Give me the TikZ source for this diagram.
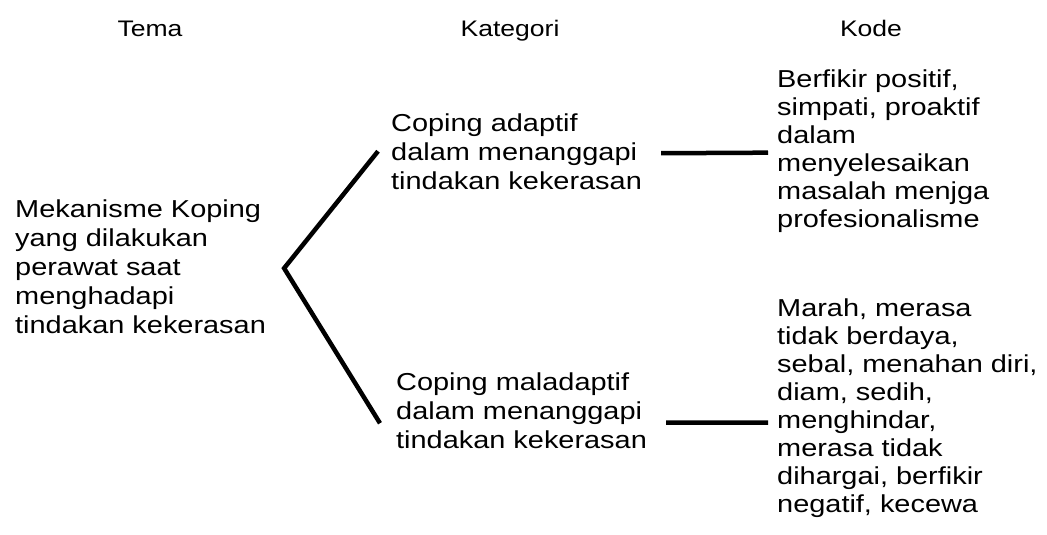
\documentclass[tikz,border=0pt]{standalone}
\usepackage{fontspec}
\setmainfont{Liberation Sans}[FakeStretch=1.18]
\usepackage{tikz}
\usetikzlibrary{positioning}

\begin{document}
\begin{tikzpicture}[
    x=1pt, y=-1pt,
    head/.style={anchor=base, inner sep=0pt, font=\fontsize{22.5}{27}\selectfont},
    txt/.style={anchor=base west, inner sep=0pt, align=left, font=\fontsize{24.5}{29}\selectfont},
    kode/.style={txt, font=\fontsize{24.5}{28}\selectfont},
    link/.style={line width=4.5pt}
]
    \useasboundingbox (0,0) rectangle (1047,535);

    % headers
    \node[head] (hTema) at (150,37) {Tema};
    \node[head] (hKategori) at (510,37) {Kategori};
    \node[head] (hKode) at (871,37) {Kode};

    % text blocks (placed by the baseline of their last line)
    \node[txt] (tema) at (15,333) {Mekanisme Koping\\yang dilakukan\\perawat saat\\menghadapi\\tindakan kekerasan};
    \node[txt] (adaptif) at (391,189) {Coping adaptif\\dalam menanggapi\\tindakan kekerasan};
    \node[txt] (maladaptif) at (396,448) {Coping maladaptif\\dalam menanggapi\\tindakan kekerasan};
    \node[kode] (kode1) at (777,227) {Berfikir positif,\\simpati, proaktif\\dalam\\menyelesaikan\\masalah menjga\\profesionalisme};
    \node[kode] (kode2) at (777,512) {Marah, merasa\\tidak berdaya,\\sebal, menahan diri,\\diam, sedih,\\menghindar,\\merasa tidak\\dihargai, berfikir\\negatif, kecewa};

    \coordinate (split) at ([xshift=18pt,yshift=-2pt]tema.east);
    \draw[link] ([xshift=-13pt]adaptif.west) -- (split) -- ([xshift=-16pt,yshift=-13pt]maladaptif.west);
    \draw[link] ([xshift=19pt,yshift=-2pt]adaptif.east) -- ([xshift=-9pt,yshift=-2pt]kode1.west);
    \draw[link] ([xshift=19pt,yshift=-12.5pt]maladaptif.east) -- ([xshift=-9pt,yshift=-15pt]kode2.west);
\end{tikzpicture}
\end{document}
